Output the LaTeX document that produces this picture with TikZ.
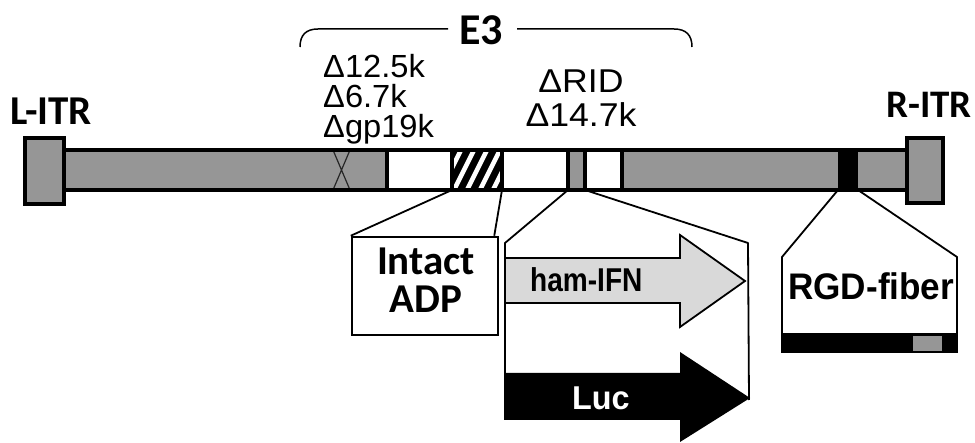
\documentclass[tikz,border=0pt]{standalone}
\usepackage{fontspec}
\usepackage{graphicx}
\setmainfont{Liberation Sans}
\newfontfamily\calfont{Carlito}
\definecolor{segfill}{RGB}{150,150,150}
\definecolor{ifnfill}{RGB}{217,217,217}
\begin{document}
\begin{tikzpicture}[x=1pt,y=-1pt,
  lbl/.style={font=\calfont\bfseries\fontsize{41}{41}\selectfont, inner sep=0pt},
  del/.style={font=\fontsize{32}{32}\selectfont, inner sep=0pt},
  delb/.style={font=\fontsize{33}{33}\selectfont, inner sep=0pt},
  arl/.style={font=\bfseries\fontsize{33}{33}\selectfont, inner sep=0pt},
  conn/.style={line width=1.8pt, line join=round},
  thickbox/.style={line width=4.5pt},
  sep/.style={line width=4pt}]
\useasboundingbox (0,0) rectangle (975,443);

% ---- bracket E3
\node[lbl, anchor=base west, font=\calfont\bfseries\fontsize{44}{44}\selectfont] (e3) at (459,45) {E3};
\coordinate (brL) at (300,47);
\coordinate (brR) at (692,47);
\draw[line width=1.5pt] (brL) .. controls (300,35) and (306,29) .. (318,29) -- (448,29);
\draw[line width=1.5pt] (517,29) -- (674,29) .. controls (686,29) and (692,35) .. (brR);

% ---- labels
\node[lbl, anchor=base west] (litr) at (10,125) {L-ITR};
\node[lbl, anchor=base west, font=\calfont\bfseries\fontsize{39}{39}\selectfont] (ritr) at (886,118) {R-ITR};
\node[del, anchor=base west] (d1) at (323,78) {\scalebox{1.02}[1]{Δ12.5k}};
\node[del, anchor=base west] (d2) at (323,108) {\scalebox{1.02}[1]{Δ6.7k}};
\node[del, anchor=base west] (d3) at (323,138) {\scalebox{1.02}[1]{Δgp19k}};
\node[delb, anchor=base] (d4) at (581,93) {\scalebox{1.08}[1]{ΔRID}};
\node[delb, anchor=base] (d5) at (581,127) {\scalebox{1.08}[1]{Δ14.7k}};

% ---- genome bar
\fill[segfill] (64,150) rectangle (907,190);
\fill[white] (387,150) rectangle (452,190);
\fill[white] (502,150) rectangle (568,190);
\fill[white] (585,150) rectangle (622,190);
\fill[black] (838,150) rectangle (858,190);
\begin{scope}
  \clip (452,150) rectangle (502,190);
  \fill[black] (452,150) rectangle (502,190);
  \foreach \x in {426,439,...,505}
    \draw[white, line width=4.5pt] (\x,194) -- (\x+24,146);
\end{scope}
\draw[black!85, line width=1.2pt] (333,150) -- (350,190) (350,150) -- (333,190);
\foreach \x in {387,452,502,568,585,622}
  \draw[sep] (\x,150) -- (\x,190);
\draw[thickbox] (64,150) rectangle (907,190);
\draw[thickbox, fill=segfill] (25,138) rectangle (64,204);
\draw[thickbox, fill=segfill] (907,138) rectangle (943,203);

\coordinate (hatL) at (452,190);
\coordinate (hatR) at (502,190);
\coordinate (ridL) at (568,190);
\coordinate (ridR) at (585,190);
\coordinate (fibL) at (838,190);
\coordinate (fibR) at (858,190);

% ---- Intact ADP
\node[draw, line width=2.5pt, fill=white, minimum width=146pt, minimum height=98pt, inner sep=0pt] (adp) at (425,286) {};
\draw[conn] (hatL) -- (adp.north west);
\draw[conn] (hatR) -- ([xshift=-5pt]adp.north east);
\node[lbl, anchor=base] (t1) at (426,275) {Intact};
\node[lbl, anchor=base] (t2) at (426,313) {ADP};

% ---- ham-IFN and Luc arrows
\draw[line width=1.8pt, fill=ifnfill, line join=miter]
  (505,258) -- (680,258) -- (680,235) -- (745,281) -- (680,327) -- (680,303) -- (505,303) -- cycle;
\fill[black] (505,373) -- (680,373) -- (680,352) -- (750,398) -- (680,442) -- (680,420) -- (505,420) -- cycle;
\node[arl, anchor=base west] (ifn) at (530,292) {\scalebox{0.85}[1]{ham-IFN}};
\node[arl, anchor=base west, text=white] (luc) at (572,410) {\scalebox{0.98}[1]{Luc}};
\coordinate (inL) at (505,243);
\coordinate (inLb) at (505,420);
\coordinate (inR) at (748,243);
\coordinate (inRb) at (749,400);
\draw[conn] (ridL) -- (inL) -- (inLb);
\draw[conn] (ridR) -- (inR) -- (inRb);

% ---- RGD-fiber
\coordinate (fbL) at (782,257);
\coordinate (fbR) at (957,257);
\draw[conn] (fibL) -- (fbL) -- (782,335);
\draw[conn] (fibR) -- (fbR) -- (957,335);
\fill[black] (781,333) rectangle (958,353);
\fill[segfill] (913,336) rectangle (942,351);
\node[arl, anchor=base west, font=\bfseries\fontsize{37}{37}\selectfont] (rgd) at (788,300) {\scalebox{0.95}[1]{RGD-fiber}};
\end{tikzpicture}
\end{document}
